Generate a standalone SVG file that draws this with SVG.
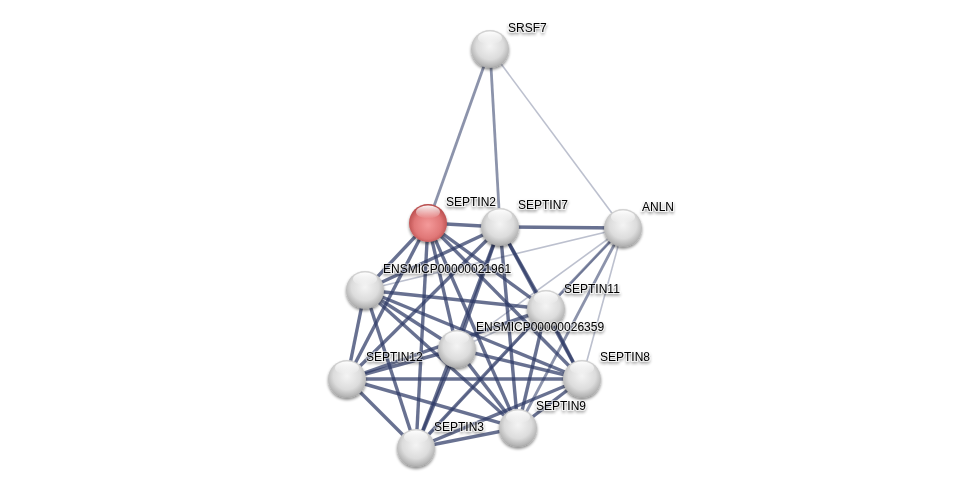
<svg xmlns="http://www.w3.org/2000/svg" width="976" height="494" viewBox="0 0 976 494">
<style>
.e{stroke:#2e3a66;stroke-linecap:butt;fill:none}
.s{stroke-width:3.4;stroke-opacity:.72}
.m{stroke-width:2.8;stroke-opacity:.55}
.l{stroke-width:1.6;stroke-opacity:.32}
.lbl{font-family:"Liberation Sans",Arial,sans-serif;font-size:12px;fill:#000;stroke:#fff;stroke-width:2;stroke-opacity:.5;paint-order:stroke}
</style>
<defs>
<radialGradient id="g" cx="0.5" cy="0.42" r="0.6">
<stop offset="0" stop-color="#f4f4f4"/>
<stop offset="0.6" stop-color="#dcdcdc"/>
<stop offset="0.9" stop-color="#b4b4b4"/>
<stop offset="1" stop-color="#9a9a9a"/>
</radialGradient>
<radialGradient id="r" cx="0.5" cy="0.55" r="0.6">
<stop offset="0" stop-color="#f49a9a"/>
<stop offset="0.6" stop-color="#e07777"/>
<stop offset="0.9" stop-color="#b84c4c"/>
<stop offset="1" stop-color="#963838"/>
</radialGradient>
<linearGradient id="h" x1="0" y1="0" x2="0" y2="1">
<stop offset="0" stop-color="#fff" stop-opacity="0.95"/>
<stop offset="1" stop-color="#fff" stop-opacity="0"/>
</linearGradient>
<filter id="sh" x="-30%" y="-30%" width="160%" height="160%">
<feGaussianBlur in="SourceAlpha" stdDeviation="1.5"/>
<feOffset dx="0" dy="2"/>
<feComponentTransfer><feFuncA type="linear" slope="0.45"/></feComponentTransfer>
<feMerge><feMergeNode/><feMergeNode in="SourceGraphic"/></feMerge>
</filter>
</defs>
<rect width="976" height="494" fill="#fff"/>
<g id="edges">
<line class="e m" x1="490" y1="49" x2="428" y2="223"/>
<line class="e m" x1="490" y1="49" x2="500" y2="227"/>
<line class="e l" x1="490" y1="49" x2="623" y2="228"/>
<line class="e s" x1="428" y1="223" x2="500" y2="227"/>
<line class="e s" x1="500" y1="227" x2="623" y2="228"/>
<line class="e l" x1="365" y1="290" x2="623" y2="228"/>
<line class="e l" x1="457" y1="349" x2="623" y2="228"/>
<line class="e m" x1="546" y1="309" x2="623" y2="228"/>
<line class="e l" x1="582" y1="379" x2="623" y2="228"/>
<line class="e m" x1="518" y1="428" x2="623" y2="228"/>
<line class="e l" x1="416" y1="448" x2="623" y2="228"/>
<line class="e s" x1="428" y1="223" x2="365" y2="290"/>
<line class="e s" x1="428" y1="223" x2="546" y2="309"/>
<line class="e s" x1="428" y1="223" x2="457" y2="349"/>
<line class="e s" x1="428" y1="223" x2="347" y2="379"/>
<line class="e s" x1="428" y1="223" x2="582" y2="379"/>
<line class="e s" x1="428" y1="223" x2="518" y2="428"/>
<line class="e s" x1="428" y1="223" x2="416" y2="448"/>
<line class="e s" x1="500" y1="227" x2="365" y2="290"/>
<line class="e s" x1="500" y1="227" x2="546" y2="309"/>
<line class="e s" x1="500" y1="227" x2="457" y2="349"/>
<line class="e s" x1="500" y1="227" x2="347" y2="379"/>
<line class="e s" x1="500" y1="227" x2="582" y2="379"/>
<line class="e s" x1="500" y1="227" x2="518" y2="428"/>
<line class="e s" x1="500" y1="227" x2="416" y2="448"/>
<line class="e s" x1="365" y1="290" x2="546" y2="309"/>
<line class="e s" x1="365" y1="290" x2="457" y2="349"/>
<line class="e s" x1="365" y1="290" x2="347" y2="379"/>
<line class="e s" x1="365" y1="290" x2="582" y2="379"/>
<line class="e s" x1="365" y1="290" x2="518" y2="428"/>
<line class="e s" x1="365" y1="290" x2="416" y2="448"/>
<line class="e l" x1="546" y1="309" x2="457" y2="349"/>
<line class="e s" x1="546" y1="309" x2="347" y2="379"/>
<line class="e s" x1="546" y1="309" x2="582" y2="379"/>
<line class="e s" x1="546" y1="309" x2="518" y2="428"/>
<line class="e s" x1="546" y1="309" x2="416" y2="448"/>
<line class="e s" x1="457" y1="349" x2="347" y2="379"/>
<line class="e s" x1="457" y1="349" x2="582" y2="379"/>
<line class="e s" x1="457" y1="349" x2="518" y2="428"/>
<line class="e s" x1="457" y1="349" x2="416" y2="448"/>
<line class="e s" x1="347" y1="379" x2="582" y2="379"/>
<line class="e s" x1="347" y1="379" x2="518" y2="428"/>
<line class="e s" x1="347" y1="379" x2="416" y2="448"/>
<line class="e s" x1="582" y1="379" x2="518" y2="428"/>
<line class="e s" x1="582" y1="379" x2="416" y2="448"/>
<line class="e s" x1="518" y1="428" x2="416" y2="448"/>
</g>
<g id="SRSF7" filter="url(#sh)"><circle cx="490" cy="49" r="19" fill="url(#g)"/><ellipse cx="490" cy="38" rx="12" ry="6.5" fill="url(#h)"/><text class="lbl" x="508" y="32">SRSF7</text></g>
<g id="SEPTIN2" filter="url(#sh)"><circle cx="428" cy="223" r="19" fill="url(#r)"/><ellipse cx="428" cy="212" rx="12" ry="6.5" fill="url(#h)"/><text class="lbl" x="446" y="206">SEPTIN2</text></g>
<g id="SEPTIN7" filter="url(#sh)"><circle cx="500" cy="227" r="19" fill="url(#g)"/><ellipse cx="500" cy="216" rx="12" ry="6.5" fill="url(#h)"/><text class="lbl" x="518" y="209">SEPTIN7</text></g>
<g id="ANLN" filter="url(#sh)"><circle cx="623" cy="228" r="19" fill="url(#g)"/><ellipse cx="623" cy="217" rx="12" ry="6.5" fill="url(#h)"/><text class="lbl" x="642" y="211">ANLN</text></g>
<g id="ENSMICP00000021961" filter="url(#sh)"><circle cx="365" cy="290" r="19" fill="url(#g)"/><ellipse cx="365" cy="279" rx="12" ry="6.5" fill="url(#h)"/><text class="lbl" x="383" y="273">ENSMICP00000021961</text></g>
<g id="SEPTIN11" filter="url(#sh)"><circle cx="546" cy="309" r="19" fill="url(#g)"/><ellipse cx="546" cy="298" rx="12" ry="6.5" fill="url(#h)"/><text class="lbl" x="564" y="293">SEPTIN11</text></g>
<g id="ENSMICP00000026359" filter="url(#sh)"><circle cx="457" cy="349" r="19" fill="url(#g)"/><ellipse cx="457" cy="338" rx="12" ry="6.5" fill="url(#h)"/><text class="lbl" x="476" y="331">ENSMICP00000026359</text></g>
<g id="SEPTIN12" filter="url(#sh)"><circle cx="347" cy="379" r="19" fill="url(#g)"/><ellipse cx="347" cy="368" rx="12" ry="6.5" fill="url(#h)"/><text class="lbl" x="366" y="361">SEPTIN12</text></g>
<g id="SEPTIN8" filter="url(#sh)"><circle cx="582" cy="379" r="19" fill="url(#g)"/><ellipse cx="582" cy="368" rx="12" ry="6.5" fill="url(#h)"/><text class="lbl" x="600" y="361">SEPTIN8</text></g>
<g id="SEPTIN9" filter="url(#sh)"><circle cx="518" cy="428" r="19" fill="url(#g)"/><ellipse cx="518" cy="417" rx="12" ry="6.5" fill="url(#h)"/><text class="lbl" x="536" y="410">SEPTIN9</text></g>
<g id="SEPTIN3" filter="url(#sh)"><circle cx="416" cy="448" r="19" fill="url(#g)"/><ellipse cx="416" cy="437" rx="12" ry="6.5" fill="url(#h)"/><text class="lbl" x="434" y="431">SEPTIN3</text></g>
</svg>
